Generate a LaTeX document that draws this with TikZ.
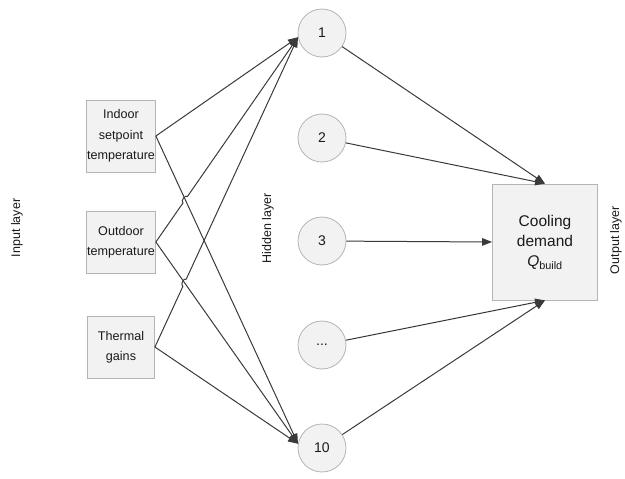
\documentclass[tikz,border=0pt]{standalone}
\usepackage{fontspec}
\setmainfont{Liberation Sans}
\usetikzlibrary{arrows.meta,intersections,calc}
\definecolor{linec}{HTML}{3A3A3A}
\definecolor{boxborder}{HTML}{B4B4B4}
\definecolor{boxfill}{HTML}{F2F2F2}
\definecolor{txt}{HTML}{1A1A1A}
\begin{document}
\begin{tikzpicture}[x=1pt,y=-1pt,
  inbox/.style={draw=boxborder,fill=boxfill,line width=0.8pt,minimum width=67pt,minimum height=62pt,align=center,font=\fontsize{12.6}{20.5}\selectfont,text=txt,inner sep=0.5pt},
  neuron/.style={circle,draw=boxborder,fill=boxfill,line width=0.8pt,minimum size=48pt,inner sep=0pt,font=\fontsize{14}{16}\selectfont,text=txt},
  outbox/.style={draw=boxborder,fill=boxfill,line width=0.8pt,minimum width=105pt,minimum height=116pt,align=center,font=\fontsize{15.5}{20}\selectfont,text=txt},
  layerlabel/.style={rotate=90,font=\fontsize{12.5}{14}\selectfont,text=txt},
  conn/.style={draw=linec,line width=1pt,-{Triangle[length=10pt,width=7.5pt]}}]
\useasboundingbox (0,0) rectangle (625,479);
% input boxes
\node[inbox,minimum height=72pt] (in1) at (121,136) {Indoor\\setpoint\\temperature};
\node[inbox] (in2) at (121,242) {Outdoor\\temperature};
\node[inbox] (in3) at (121,347) {Thermal\\gains};
% neurons
\node[neuron] (c1) at (322,33) {1};
\node[neuron] (c2) at (322,138) {2};
\node[neuron] (c3) at (322,241) {3};
\node[neuron] (c4) at (322,345) {...};
\node[neuron] (c10) at (322,448) {10};
% output
\node[outbox] (out) at (545,242) {Cooling\\demand\\\textit{Q}\textsubscript{build}};
% layer labels
\node[layerlabel] (lin) at (17,228) {Input layer};
\node[layerlabel] (lhid) at (268,228) {Hidden layer};
\node[layerlabel] (lout) at (616,240) {Output layer};
% invisible paths for crossings
\path[name path=pB] (in1.east) -- (c10.170);
\path[name path=pC] (in2.east) -- (c1.190);
\path[name path=pD] (in2.east) -- (c10.170);
\path[name path=pE] (in3.east) -- (c1.190);
\path[name intersections={of=pB and pC,by=X1}];
\path[name intersections={of=pD and pE,by=X2}];
% input -> hidden
\draw[conn] (in1.east) -- (c1.190);
\draw[conn] (in1.east) -- (c10.170);
\draw[conn] (in2.east) -- ($(X1)!4pt!(in2.east)$) to[bend left=90] ($(X1)!4pt!(c1.190)$) -- (c1.190);
\draw[conn] (in2.east) -- (c10.170);
\draw[conn] (in3.east) -- ($(X2)!4pt!(in3.east)$) to[bend left=90] ($(X2)!4pt!(c1.190)$) -- (c1.190);
\draw[conn] (in3.east) -- (c10.170);
% hidden -> output
\draw[conn] (c1) -- (out.north);
\draw[conn] (c2) -- (out.north);
\draw[conn] (c3) -- (out.west);
\draw[conn] (c4) -- (out.south);
\draw[conn] (c10) -- (out.south);
\end{tikzpicture}
\end{document}
